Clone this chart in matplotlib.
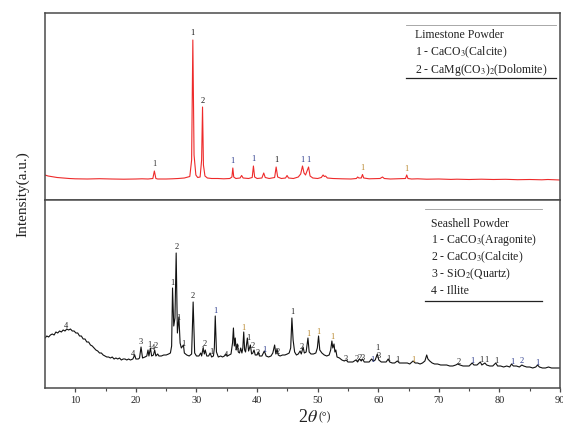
import matplotlib
matplotlib.use("Agg")
import matplotlib.pyplot as plt
from matplotlib.lines import Line2D

plt.rcParams['font.family'] = ['Liberation Serif', 'DejaVu Serif']
plt.rcParams['mathtext.fontset'] = 'stix'

lime_2theta = [5.0, 5.5, 6.0, 7.0, 8.0, 9.0, 10, 12, 14, 16, 18, 20, 21, 22, 22.8, 23.05, 23.3, 23.6,
               25, 26, 27, 28, 28.9, 29.2, 29.4, 29.6, 29.9, 30.2, 30.6, 30.85, 31.0, 31.15, 31.4, 31.8,
               32.5, 33.5, 34.5, 35.5, 35.85, 36.0, 36.15, 36.5, 37.2, 37.45, 37.7, 38.6, 39.2, 39.4, 39.6,
               40, 40.8, 41.1, 41.35, 42, 42.9, 43.15, 43.4, 44, 44.7, 44.95, 45.2, 46, 46.8, 47.2, 47.5,
               47.75, 48.0, 48.5, 48.75, 49.2, 50, 50.6, 50.9, 51.1, 51.3, 51.6, 52.5, 54, 55.5, 56.4, 56.6,
               56.8, 57.2, 57.4, 57.6, 58.5, 60.3, 60.7, 61.0, 62, 63, 64.5, 64.7, 64.9, 65.5, 66.5, 68, 70,
               72, 73, 75, 77, 79, 81, 83, 85, 87, 88, 90]
lime_counts = [25, 24, 23.5, 22.5, 22, 21.5, 21.2, 21, 21.3, 21, 20.8, 21, 21.2, 21, 21.5, 29, 21.5, 21,
               21, 21.2, 21.5, 22, 23.5, 40, 160, 45, 25, 22.5, 23, 40, 93, 35, 24, 22,
               21.5, 21.5, 21.2, 21.5, 23, 32, 23, 21.5, 22, 24.5, 22, 21.5, 22.5, 34, 23,
               21.5, 22, 27, 22.5, 21.5, 22.5, 33, 23, 21.5, 22, 24.5, 22, 21.5, 23, 26, 34,
               27, 25, 33, 24, 22, 21.5, 22.5, 25, 23.5, 24, 22, 21.5, 21.2, 21, 21.5, 23,
               22, 22, 25.5, 22, 21.2, 21.5, 23, 21.5, 21, 21.2, 21.5, 25, 21.5, 21, 21.2, 20.8, 21,
               20.6, 20.8, 20.5, 20.8, 20.5, 20.7, 20.3, 20.5, 20.2, 20.5, 20]

lime_lab_x = [23.05, 29.4, 31.0, 36.0, 39.4, 43.15, 47.5, 48.5, 57.4, 64.7]
lime_lab_y = [36, 167, 99, 39, 41, 40, 40, 40, 32, 31]
lime_lab_t = ['1', '1', '2', '1', '1', '1', '1', '1', '1', '1']
lime_lab_c = ['#333333', '#111111', '#111111', '#2a3a8c', '#2a3a8c', '#111111', '#2a3a8c', '#2a3a8c',
              '#b8862b', '#b8862b']

shell_2theta = [5.0, 5.3, 5.6, 5.9, 6.2, 6.5, 6.8, 7.1, 7.4, 7.7, 8.0, 8.3, 8.6, 8.9, 9.2, 9.5, 9.8,
                10.1, 10.4, 10.7, 11.0, 11.3, 11.6, 11.9, 12.2, 12.5, 12.8, 13.1, 13.4, 13.7, 14.0, 14.3,
                14.6, 14.9, 15.2, 15.5, 15.8, 16.1, 16.4, 16.7, 17.0, 17.3, 17.6, 17.9, 18.2, 18.5, 18.8,
                19.1, 19.5, 19.8, 20.0, 20.4, 20.6, 20.85, 21.1, 21.5, 21.8, 22.0, 22.15, 22.4, 22.6, 22.9,
                23.1, 23.3, 23.6, 23.8, 24.2, 24.6, 25.0, 25.4, 25.7, 25.9, 26.05, 26.25, 26.45, 26.65,
                26.85, 27.1, 27.3, 27.5, 27.85, 28.0, 28.4, 28.8, 29.2, 29.45, 29.7, 30.0, 30.4, 30.7,
                30.85, 31.1, 31.3, 31.45, 31.7, 32.0, 32.25, 32.5, 32.8, 32.95, 33.1, 33.3, 33.6, 34.0,
                34.3, 34.6, 34.9, 35.1, 35.4, 35.7, 35.95, 36.1, 36.25, 36.4, 36.55, 36.75, 36.9, 37.1,
                37.3, 37.5, 37.65, 37.8, 37.95, 38.1, 38.4, 38.6, 38.9, 39.1, 39.3, 39.5, 39.7, 40.0,
                40.2, 40.4, 40.8, 41.2, 41.5, 41.9, 42.3, 42.6, 42.9, 43.1, 43.3, 43.5, 43.8, 44.2, 44.6,
                45.0, 45.3, 45.55, 45.75, 45.95, 46.2, 46.5, 46.8, 47.1, 47.3, 47.6, 47.8, 48.1, 48.4,
                48.6, 48.9, 49.3, 49.7, 49.95, 50.15, 50.35, 50.7, 51.1, 51.5, 51.9, 52.15, 52.35, 52.5,
                52.7, 52.85, 53.0, 53.2, 53.6, 54.0, 54.4, 54.7, 55.0, 55.4, 55.8, 56.3, 56.6, 56.9,
                57.2, 57.4, 57.7, 58.1, 58.5, 58.9, 59.2, 59.5, 59.85, 60.1, 60.5, 60.9, 61.3, 61.65,
                61.9, 62.3, 62.7, 63.15, 63.5, 63.9, 64.4, 64.8, 65.2, 65.75, 66.1, 66.5, 66.9, 67.3,
                67.7, 68.0, 68.2, 68.5, 68.9, 69.3, 69.8, 70.3, 70.8, 71.3, 71.8, 72.3, 72.8, 73.1,
                73.5, 74.0, 74.5, 75.0, 75.5, 75.8, 76.3, 76.85, 77.1, 77.6, 77.9, 78.4, 78.9, 79.4,
                79.7, 80.2, 80.7, 81.2, 81.7, 82.0, 82.3, 82.8, 83.3, 83.7, 84.0, 84.5, 85.0, 85.5,
                86.0, 86.3, 86.6, 87.1, 87.6, 88.1, 88.6, 89.1, 89.6, 90.0]
shell_counts = [50, 52, 51, 53, 54, 53, 56, 55, 57, 56, 58, 57, 59, 58, 59, 57, 57,
                55, 55, 52, 52, 49, 49, 46, 46, 43, 42, 40, 38, 37, 35, 35,
                33, 32, 31, 31, 30, 31, 29, 30, 29, 30, 28, 29, 29, 28, 29,
                28, 29, 33, 29, 29, 30, 41, 30, 31, 32, 38, 32, 40, 32, 33,
                38, 32, 34, 32, 32, 33, 33, 34, 35, 42, 100, 62, 70, 135,
                55, 71, 45, 40, 43, 35, 33, 32, 34, 86, 35, 32, 32, 35,
                32, 40, 34, 38, 32, 32, 35, 31, 32, 40, 72, 36, 31, 32,
                31, 32, 34, 32, 33, 34, 45, 60, 42, 50, 38, 44, 36, 35,
                40, 35, 40, 56, 38, 36, 50, 37, 43, 34, 35, 38, 33, 33,
                36, 32, 32, 37, 32, 31, 32, 35, 43, 34, 39, 33, 32, 33, 33,
                34, 35, 40, 70, 48, 36, 33, 34, 37, 34, 41, 35, 36, 50,
                36, 34, 34, 35, 40, 52, 38, 35, 33, 32, 33, 38, 47, 40,
                44, 36, 38, 31, 30, 28, 27, 28, 26, 26, 26, 28, 26, 29,
                27, 29, 26, 26, 26, 29, 27, 28, 34, 28, 26, 26, 26, 29,
                26, 25, 25, 27, 25, 25, 25, 25, 24, 27, 25, 25, 24, 25,
                27, 33, 29, 27, 25, 24, 24, 23, 23, 23, 22, 22, 23, 24,
                23, 22, 22, 22, 25, 23, 23, 26, 23, 25, 23, 22, 22, 25,
                22, 22, 21, 22, 21, 24, 22, 22, 21, 23, 22, 21, 21, 20,
                21, 23, 21, 20, 20, 21, 20, 20, 20, 20]

shell_lab_x = [8.5, 19.5, 20.8, 22.3, 22.8, 23.3, 26.05, 26.65, 27.05, 27.8, 29.45, 30.9, 31.4, 32.4,
               33.1, 34.8, 36.7, 37.8, 38.5, 39.2, 40.1, 41.2, 43.4, 45.75, 47.3, 48.4, 50.1, 52.4,
               54.7, 56.4, 57.0, 57.5, 59.0, 59.8, 60.0, 61.6, 63.2, 65.8, 73.2, 75.6, 77.0, 77.8,
               79.5, 82.1, 83.6, 86.3]
shell_lab_y = [62, 34, 46, 43, 40, 42, 105, 141, 70, 44, 92, 38, 44, 36,
               77, 33, 40, 60, 50, 42, 35, 38, 36, 76, 41, 54, 56, 51,
               29, 29, 30, 30, 28, 40, 32, 29, 28, 28, 26, 27, 28, 28,
               27, 26, 27, 25]
shell_lab_t = ['4', '4', '3', '1', '4', '2', '1', '2', '1', '1', '2', '1', '2', '1',
               '1', '4', '3', '1', '1', '2', '3', '1', '2', '1', '2', '1', '1', '1',
               '3', '2', '2', '3', '1', '1', '3', '1', '1', '1', '2', '1', '1', '1',
               '1', '1', '2', '1']
NAVY = '#2a3a8c'
ORNG = '#b8862b'
DK = '#222222'
shell_lab_c = [DK, DK, DK, DK, DK, DK, DK, DK, DK, DK, DK, DK, DK, DK,
               NAVY, DK, DK, ORNG, DK, DK, DK, NAVY, DK, DK, DK, ORNG, ORNG, ORNG,
               DK, DK, DK, DK, NAVY, DK, DK, DK, DK, ORNG, DK, NAVY, DK, DK,
               DK, NAVY, NAVY, NAVY]

lime_legend = ['Limestone Powder', r'1 - CaCO$_3$(Calcite)', r'2 - CaMg(CO$_3$)$_2$(Dolomite)']
shell_legend = ['Seashell Powder', r'1 - CaCO$_3$(Aragonite)', r'2 - CaCO$_3$(Calcite)',
                r'3 - SiO$_2$(Quartz)', '4 - Illite']
x_ticks = [10, 20, 30, 40, 50, 60, 70, 80, 90]

# ---------------- figure ----------------
W, H = 563, 433
fig = plt.figure(figsize=(W / 100, H / 100), dpi=100)


def fx(px):
    return px / W


def fy(py):
    return 1 - py / H


L, R, T, MID, B = 45, 560, 13, 200, 388
ax1 = fig.add_axes([fx(L), fy(MID), fx(R) - fx(L), fy(T) - fy(MID)])
ax2 = fig.add_axes([fx(L), fy(B), fx(R) - fx(L), fy(MID) - fy(B)], sharex=ax1)

frame_c = '#4a4a4a'
for ax in (ax1, ax2):
    for s in ax.spines.values():
        s.set_color(frame_c)
        s.set_linewidth(1.1)
    ax.set_yticks([])

ax1.plot(lime_2theta, lime_counts, color='#ee2a2a', lw=0.8)
ax1.set_xlim(5, 90)
ax1.set_ylim(0, 187)
ax1.tick_params(axis='x', which='both', bottom=False, labelbottom=False)
for x, y, t, c in zip(lime_lab_x, lime_lab_y, lime_lab_t, lime_lab_c):
    ax1.text(x, y, t, ha='center', va='center', fontsize=6, color=c)

ax2.plot(shell_2theta, shell_counts, color='#111111', lw=0.8)
ax2.set_ylim(0, 188)
ax2.set_xticks(x_ticks)
ax2.set_xticks([15, 25, 35, 45, 55, 65, 75, 85], minor=True)
ax2.tick_params(axis='x', which='major', direction='out', length=3, width=0.9, color=frame_c,
                labelsize=7.5, labelcolor='#222222', pad=3)
ax2.tick_params(axis='x', which='minor', direction='out', length=2, width=0.8, color=frame_c)
for x, y, t, c in zip(shell_lab_x, shell_lab_y, shell_lab_t, shell_lab_c):
    ax2.text(x, y, t, ha='center', va='center', fontsize=6, color=c)

# legend-like boxes
def hline(px0, px1, py, color, lw):
    fig.add_artist(Line2D([fx(px0), fx(px1)], [fy(py), fy(py)], color=color, lw=lw,
                          transform=fig.transFigure))


hline(406, 556, 25, '#9a9a9a', 0.6)
hline(406, 556, 78, '#222222', 0.9)
for txt, py in zip(lime_legend, [35, 52, 70]):
    fig.text(fx(415), fy(py), txt, ha='left', va='center', fontsize=8.5, color='#222222')

hline(425, 542, 209, '#9a9a9a', 0.6)
hline(425, 542, 301, '#222222', 0.9)
for txt, py in zip(shell_legend, [224, 240, 257, 274, 291]):
    fig.text(fx(431), fy(py), txt, ha='left', va='center', fontsize=8.5, color='#222222')

# axis labels
fig.text(fx(23), fy(194), 'Intensity(a.u.)', rotation=90, ha='center', va='center',
         fontsize=11, color='#222222')
fig.text(fx(318), fy(418), r'2$\mathit{\theta}$', ha='right', va='center', fontsize=13,
         color='#222222')
fig.text(fx(318.5), fy(417), '(°)', ha='left', va='center', fontsize=8.5, color='#222222')

fig.savefig('out.png', dpi=100)
